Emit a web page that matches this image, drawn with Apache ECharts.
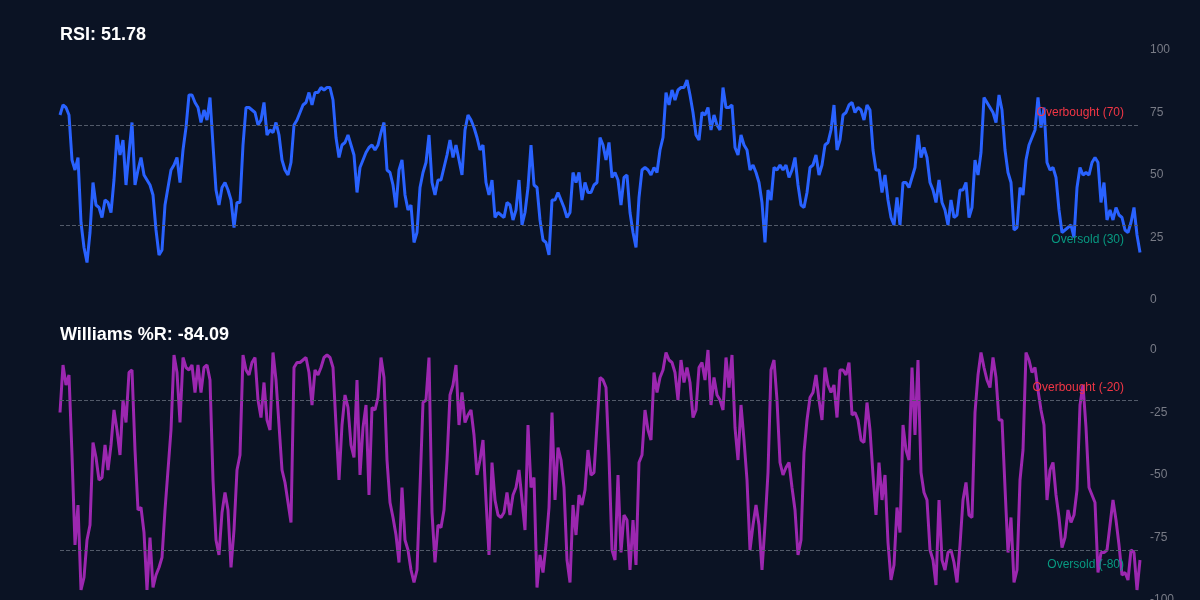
<!DOCTYPE html>
<html>
<head>
<meta charset="utf-8">
<title>RSI / Williams %R</title>
<script src="https://cdn.jsdelivr.net/npm/echarts@6/dist/echarts.min.js"></script>
<style>
  html, body { margin: 0; padding: 0; background: #0b1324; }
  #chart { width: 1200px; height: 600px; }
</style>
</head>
<body>
<div id="chart"></div>
<script>
// readings of the two oscillators, one per bar
const rsi_values = [
  74, 78, 77, 74, 56, 52, 57, 31, 21, 15, 27, 47, 38, 37, 33, 40, 39, 35, 48, 66,
  58, 64, 46, 59, 71, 46, 52, 57, 50, 48, 46, 42, 28, 18, 20, 38, 45, 52, 54, 57,
  47, 60, 69, 82, 82, 79, 77, 71, 76, 72, 81, 62, 44, 38, 45, 47, 44, 40, 29, 39,
  39, 62, 77, 77, 76, 75, 70, 72, 79, 66, 68, 67, 71, 66, 56, 52, 50, 55, 70, 72,
  75, 78, 79, 83, 78, 83, 83, 85, 84, 85, 85, 80, 65, 57, 62, 63, 66, 62, 58, 43,
  53, 56, 59, 61, 62, 60, 62, 67, 71, 52, 51, 46, 37, 52, 56, 42, 36, 38, 23, 27,
  45, 51, 55, 66, 47, 42, 48, 48, 53, 58, 64, 57, 62, 56, 50, 68, 74, 72, 69, 65,
  60, 62, 47, 42, 48, 33, 35, 34, 33, 39, 38, 32, 36, 48, 30, 35, 45, 62, 46, 45,
  32, 24, 23, 18, 40, 40, 43, 40, 37, 33, 35, 51, 47, 51, 40, 47, 43, 43, 46, 47,
  65, 62, 56, 63, 49, 51, 48, 38, 49, 50, 35, 27, 21, 41, 52, 53, 52, 50, 53, 51,
  60, 65, 83, 78, 84, 80, 84, 85, 85, 88, 82, 75, 66, 64, 75, 74, 77, 68, 74, 70,
  68, 85, 77, 77, 78, 61, 58, 66, 62, 60, 52, 54, 51, 47, 39, 23, 44, 40, 53, 52,
  54, 52, 54, 49, 52, 57, 46, 38, 37, 43, 53, 54, 58, 50, 54, 62, 63, 68, 78, 60,
  64, 74, 75, 78, 79, 75, 77, 76, 72, 78, 76, 60, 52, 52, 43, 50, 40, 33, 30, 41,
  30, 47, 47, 45, 49, 53, 66, 57, 61, 57, 47, 44, 39, 48, 39, 36, 30, 40, 33, 34,
  44, 44, 47, 33, 37, 56, 50, 59, 81, 79, 77, 75, 71, 82, 76, 60, 51, 47, 28, 29,
  45, 42, 56, 62, 65, 68, 81, 69, 77, 55, 52, 53, 49, 36, 27, 28, 29, 30, 25, 45,
  53, 50, 51, 50, 55, 57, 55, 39, 47, 32, 36, 32, 37, 34, 33, 28, 27, 31, 37, 26,
  19
];

const wr_values = [
  -25, -6, -14, -10, -42, -78, -62, -96, -91, -76, -70, -37, -43, -52, -51, -38, -48, -38, -24, -32,
  -42, -20, -29, -9, -8, -40, -64, -63, -73, -96, -75, -95, -90, -87, -83, -64, -48, -32, -2, -9,
  -29, -3, -7, -8, -6, -17, -6, -17, -7, -6, -12, -52, -76, -82, -65, -57, -64, -87, -72, -48,
  -42, -2, -8, -10, -5, -3, -20, -27, -13, -28, -32, -1, -12, -30, -48, -53, -61, -69, -7, -5,
  -5, -4, -3, -9, -22, -8, -10, -7, -3, -2, -3, -7, -30, -52, -30, -18, -23, -38, -43, -12,
  -50, -31, -22, -58, -23, -24, -19, -3, -11, -44, -61, -67, -74, -85, -55, -76, -80, -88, -93, -88,
  -55, -21, -20, -3, -65, -85, -70, -71, -64, -44, -18, -14, -6, -30, -17, -29, -26, -24, -34, -50,
  -44, -36, -60, -82, -45, -60, -66, -67, -65, -57, -66, -58, -55, -48, -60, -72, -30, -55, -51, -95,
  -82, -89, -78, -63, -25, -60, -39, -44, -55, -84, -93, -62, -74, -58, -62, -56, -40, -50, -49, -30,
  -11, -12, -15, -43, -80, -84, -50, -81, -66, -68, -88, -68, -86, -45, -42, -24, -32, -36, -9, -17,
  -11, -8, -1, -4, -5, -9, -20, -4, -13, -7, -13, -27, -24, -7, -5, -12, 0, -22, -11, -18,
  -20, -24, -3, -15, -2, -31, -44, -22, -36, -52, -80, -70, -62, -70, -88, -70, -49, -8, -4, -20,
  -45, -50, -47, -45, -55, -64, -82, -76, -41, -28, -19, -17, -10, -20, -28, -7, -14, -17, -14, -27,
  -8, -8, -10, -5, -26, -25, -28, -36, -37, -21, -32, -50, -66, -45, -60, -50, -77, -92, -86, -63,
  -73, -30, -40, -44, -7, -34, -4, -49, -57, -60, -80, -84, -94, -60, -84, -88, -81, -80, -85, -93,
  -78, -60, -53, -66, -67, -25, -10, -1, -7, -12, -15, -3, -11, -28, -28, -55, -81, -67, -93, -88,
  -52, -40, -1, -4, -9, -7, -16, -24, -30, -60, -48, -45, -58, -67, -79, -75, -64, -69, -66, -56,
  -22, -14, -31, -55, -58, -61, -89, -81, -81, -80, -70, -60, -68, -78, -90, -89, -92, -80, -81, -96,
  -84
];

const rsi_ticks = [0, 25, 50, 75, 100];
const wr_ticks = [-100, -75, -50, -25, 0];
const rsi_levels = [70, 30];
const wr_levels = [-20, -80];
const rsi_title = 'RSI: 51.78';
const wr_title = 'Williams %R: -84.09';

const bars = rsi_values.map((v, i) => i);

const chart = echarts.init(document.getElementById('chart'));

const lvl_up = '#f23645';
const lvl_down = '#089981';
const lvl_line = '#525a69';

function level_lines(levels, names) {
  return {
    silent: true,
    symbol: 'none',
    lineStyle: { color: lvl_line, type: 'dashed', width: 1 },
    data: [
      { yAxis: levels[0], label: { formatter: names[0], position: 'insideEndTop', color: lvl_up, distance: [16, 6] } },
      { yAxis: levels[1], label: { formatter: names[1], position: 'insideEndBottom', color: lvl_down, distance: [16, 9] } }
    ],
    label: { fontSize: 12 }
  };
}

const y_common = {
  type: 'value',
  position: 'right',
  interval: 25,
  splitLine: { show: false },
  axisLine: { show: false },
  axisTick: { show: false },
  axisLabel: { color: '#787b86', fontSize: 12, margin: 10 }
};

chart.setOption({
  backgroundColor: '#0b1324',
  animation: false,
  title: [
    { text: rsi_title, left: 60, top: 26, padding: 0, textStyle: { color: '#ffffff', fontSize: 18, fontWeight: 'bold' } },
    { text: wr_title, left: 60, top: 326, padding: 0, textStyle: { color: '#ffffff', fontSize: 18, fontWeight: 'bold' } }
  ],
  grid: [
    { left: 60, right: 60, top: 50, height: 250, outerBoundsMode: 'none' },
    { left: 60, right: 60, top: 350, height: 250, outerBoundsMode: 'none' }
  ],
  xAxis: [
    { type: 'category', gridIndex: 0, data: bars, boundaryGap: false, show: false },
    { type: 'category', gridIndex: 1, data: bars, boundaryGap: false, show: false }
  ],
  yAxis: [
    Object.assign({}, y_common, { gridIndex: 0, min: rsi_ticks[0], max: rsi_ticks[rsi_ticks.length - 1] }),
    Object.assign({}, y_common, { gridIndex: 1, min: wr_ticks[0], max: wr_ticks[wr_ticks.length - 1] })
  ],
  series: [
    {
      name: 'RSI',
      type: 'line',
      xAxisIndex: 0,
      yAxisIndex: 0,
      data: rsi_values,
      symbol: 'none',
      lineStyle: { color: '#2962ff', width: 3 },
      markLine: level_lines(rsi_levels, ['Overbought (70)', 'Oversold (30)'])
    },
    {
      name: 'Williams %R',
      type: 'line',
      xAxisIndex: 1,
      yAxisIndex: 1,
      data: wr_values,
      symbol: 'none',
      lineStyle: { color: '#9c27b0', width: 3 },
      markLine: level_lines(wr_levels, ['Overbought (-20)', 'Oversold (-80)'])
    }
  ]
});
</script>
</body>
</html>
